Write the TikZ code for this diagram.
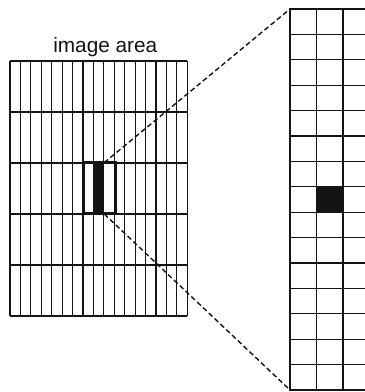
\documentclass[tikz,border=0pt]{standalone}
\usepackage{fontspec}
\setmainfont{Liberation Sans}
\usepackage{tikz}
\usetikzlibrary{positioning,calc}
\definecolor{InkBlack}{HTML}{141414}
\tikzset{
  % Grid lines
  gridthin/.style={draw=InkBlack,line width=1.1pt},
  gridrow/.style={draw=InkBlack,line width=1.4pt},
  gridedge/.style={draw=InkBlack,line width=2pt},
  % Pixels
  pixel/.style={rectangle,fill=InkBlack,draw=none,inner sep=0pt},
  selbox/.style={rectangle,draw=InkBlack,line width=2.4pt,inner sep=0pt},
  % Zoom connector
  zoomline/.style={draw=InkBlack,line width=1.4pt,dash pattern=on 5pt off 3pt},
  % Caption
  captext/.style={font=\fontsize{20.8}{23}\selectfont,text=InkBlack,anchor=base,inner sep=0pt}
}
\begin{document}
\begin{tikzpicture}[x=1pt,y=1pt]
  \useasboundingbox (0,0) rectangle (365,392);
  % image area (17 x 5)
  \node[captext] (title) at (105.3,339.5) {image area};
  \foreach \i in {0,...,17}
    \draw[gridthin] ({10+\i*10.43},76) -- ({10+\i*10.43},331);
  \foreach \j in {0,...,5}
    \draw[gridrow] (10,{76+\j*51}) -- (187.3,{76+\j*51});
  \node[pixel,minimum width=10.43pt,minimum height=51pt,anchor=south west]
    (cell) at ({10+8*10.43},178) {};
  \node[selbox,minimum width=31.29pt,minimum height=51pt,anchor=south west]
    (sel) at ({10+7*10.43},178) {};
  % magnified strip
  \coordinate (ztop) at (290,383);
  \coordinate (zbot) at (290,2);
  \begin{scope}
    \clip (0,0) rectangle (365,392);
    \node[pixel,minimum width=26.5pt,minimum height=25.4pt,anchor=north west]
      (zcell) at (316.5,{383-7*25.4}) {};
    \foreach \j in {1,...,14}
      \draw[gridthin] (290,{383-\j*25.4}) -- (366,{383-\j*25.4});
    \foreach \i in {1,2}
      \draw[gridthin] ({290+\i*26.5},2) -- ({290+\i*26.5},383);
    \draw[gridedge] (366,383) -- (ztop) -- (zbot) -- (366,2);
  \end{scope}
  % connectors
  \draw[zoomline] (cell.north east) -- (ztop);
  \draw[zoomline] (cell.south east) -- (zbot);
\end{tikzpicture}
\end{document}
